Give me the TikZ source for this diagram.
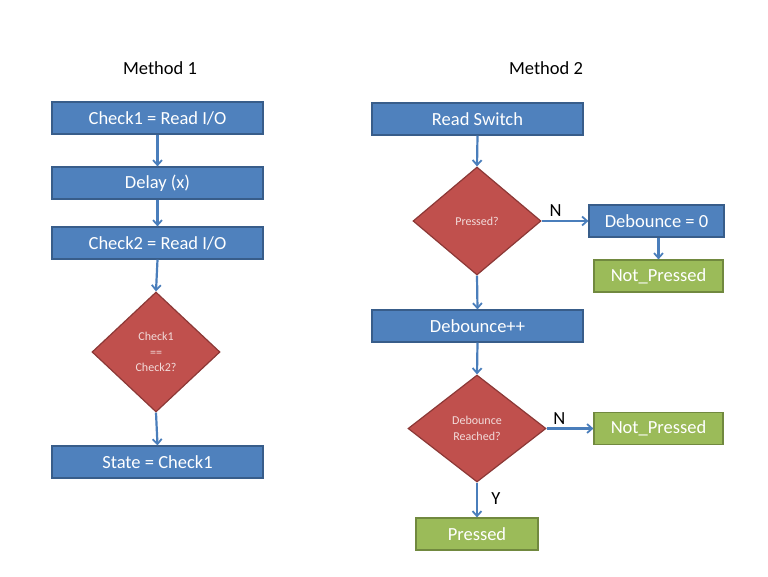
\documentclass[tikz,border=0pt]{standalone}
\usepackage{fontspec}
\setmainfont{Carlito}
\usetikzlibrary{shapes.geometric,arrows.meta}
\definecolor{bfill}{HTML}{4F81BD}
\definecolor{bdraw}{HTML}{385D8A}
\definecolor{rfill}{HTML}{C0504D}
\definecolor{rdraw}{HTML}{8C3836}
\definecolor{gfill}{HTML}{9BBB59}
\definecolor{gdraw}{HTML}{71893F}
\definecolor{arr}{HTML}{4A7EBB}
\definecolor{dtext}{HTML}{F2DCDB}
\tikzset{
  bluebox/.style={draw=bdraw, fill=bfill, line width=1.2pt, text=white, font=\fontsize{18.5}{22}\selectfont, inner sep=0pt, minimum height=32pt},
  greenbox/.style={draw=gdraw, fill=gfill, line width=1.2pt, text=white, font=\fontsize{18.5}{22}\selectfont, inner sep=0pt, minimum height=32pt},
  decision/.style={diamond, draw=rdraw, fill=rfill, line width=1.2pt, text=dtext, font=\fontsize{12}{15.5}\selectfont, inner sep=0pt, align=center},
  flow/.style={draw=arr, line width=2.2pt, -{Straight Barb[length=5pt,width=9pt,line width=1.8pt]}},
  lbl/.style={font=\fontsize{18.5}{22}\selectfont, text=black},
}
\begin{document}
\begin{tikzpicture}[x=1pt,y=-1pt]
\useasboundingbox (0,0) rectangle (768,576);
\node[lbl] (m1) at (160,68) {Method 1};
\node[lbl] (m2) at (546,68) {Method 2};

\node[bluebox, minimum width=211pt] (c1) at (157.5,118) {Check1 = Read I/O};
\node[bluebox, minimum width=211pt] (dl) at (157.5,183) {Delay (x)};
\node[bluebox, minimum width=211pt] (c2) at (157.5,243) {Check2 = Read I/O};
\node[decision, minimum width=128pt, minimum height=120pt] (d1) at (156,352) {Check1\\==\\Check2?};
\node[bluebox, minimum width=211pt] (st) at (157.5,462) {State = Check1};

\draw[flow] (c1.south) -- (dl.north);
\draw[flow] (dl.south) -- (c2.north);
\draw[flow] (c2.south) -- (d1.north);
\draw[flow] (d1.south) -- (st.north);

\node[bluebox, minimum width=211pt] (rs) at (477.5,119) {Read Switch};
\node[decision, minimum width=128pt, minimum height=108pt] (d2) at (477,221) {Pressed?};
\node[bluebox, minimum width=135pt] (db0) at (656.5,221) {Debounce = 0};
\node[greenbox, minimum width=129pt] (np1) at (658.5,276) {Not\_Pressed};
\node[bluebox, minimum width=211pt] (dbp) at (477.5,326) {Debounce++};
\node[decision, minimum width=138pt, minimum height=107pt] (d3) at (477,428.5) {Debounce\\Reached?};
\node[greenbox, minimum width=129pt] (np2) at (658.5,428.5) {Not\_Pressed};
\node[greenbox, minimum width=122pt] (pr) at (477,534) {Pressed};

\draw[flow] (rs.south) -- (d2.north);
\draw[flow] (d2.east) -- node[lbl, above, pos=0.3, yshift=0pt] (n1) {N} (db0.west);
\draw[flow] (db0.south -| np1.north) -- (np1.north);
\draw[flow] (d2.south) -- (dbp.north);
\draw[flow] (dbp.south) -- (d3.north);
\draw[flow] (d3.east) -- node[lbl, above, pos=0.27, yshift=0pt] (n2) {N} (np2.west);
\draw[flow] (d3.south) -- node[lbl, right, pos=0.45, xshift=10pt] (y1) {Y} (pr.north);
\end{tikzpicture}
\end{document}
